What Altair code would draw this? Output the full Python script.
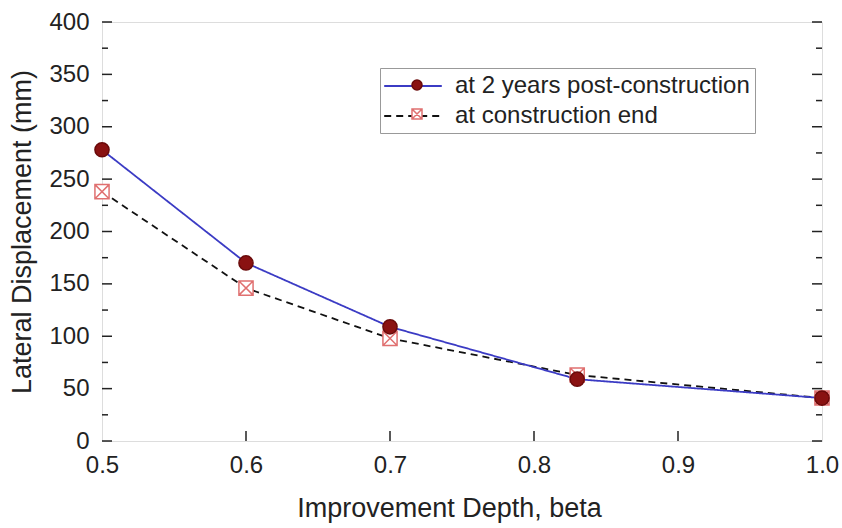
import altair as alt
import pandas as pd

# ---- data ----
BETA = [0.5, 0.6, 0.7, 0.83, 1.0]
POST = [278, 170, 109, 59, 41]
END = [238, 146, 98, 63, 41]
SERIES = ["at 2 years post-construction", "at construction end"]

Y_MAJOR = [0, 50, 100, 150, 200, 250, 300, 350, 400]
Y_MINOR = [25, 75, 125, 175, 225, 275, 325, 375]
X_MAJOR = [0.6, 0.7, 0.8, 0.9]

W, H = 720, 419
FONT = "Liberation Sans"

rows = []
for b, v in zip(BETA, END):
    rows.append({"beta": b, "disp": v, "s": SERIES[1], "s2": SERIES[1]})
for b, v in zip(BETA, POST):
    rows.append({"beta": b, "disp": v, "s": SERIES[0], "s2": SERIES[0]})
df = pd.DataFrame(rows)

xs = alt.Scale(domain=[0.5, 1.0], nice=False, zero=False)
ys = alt.Scale(domain=[0, 400], nice=False)

x_axis = alt.Axis(values=[0.5, 0.6, 0.7, 0.8, 0.9, 1.0], format=".1f", ticks=False, domain=False,
                  grid=False, labelFontSize=24, labelFont=FONT, labelColor="#222",
                  labelPadding=12, labelFlush=False, title="Improvement Depth, beta", titleFontSize=27,
                  titleFont=FONT, titleFontWeight="normal", titleColor="#222",
                  titleX=347, titleY=67, titleBaseline="middle")
y_axis = alt.Axis(values=Y_MAJOR, ticks=False, domain=False, grid=False, labelFontSize=24,
                  labelFont=FONT, labelColor="#222", labelPadding=13, labelFlush=False,
                  title="Lateral Displacement (mm)", titleFontSize=27, titleFont=FONT,
                  titleFontWeight="normal", titleColor="#222", titleX=-80, titleY=H / 2,
                  titleBaseline="middle", titleAngle=-90)

base = alt.Chart(df)

LINE_SYM = "M-2.4,0H2.4"
line_legend = alt.Legend(title=None, orient="none", legendX=278, legendY=46,
                         symbolType=LINE_SYM, symbolSize=576, symbolStrokeWidth=2,
                         symbolOffset=15, labelLimit=500,
                         labelFontSize=24, labelFont=FONT, labelColor="#222",
                         labelOffset=29, rowPadding=5, padding=5,
                         strokeColor="#999", fillColor="white")
lines = base.mark_line(strokeWidth=1.8).encode(
    x=alt.X("beta:Q", scale=xs, axis=x_axis),
    y=alt.Y("disp:Q", scale=ys, axis=y_axis),
    color=alt.Color("s:N", scale=alt.Scale(domain=SERIES, range=["#3b3bc4", "#111111"]),
                    legend=line_legend),
    strokeDash=alt.StrokeDash("s:N", scale=alt.Scale(domain=SERIES, range=[[1, 0], [7, 5]]),
                              legend=line_legend),
)

SQ_X = "M-1,-1H1V1H-1Z M-1,-1L1,1 M1,-1L-1,1"
pt_legend = alt.Legend(title=None, orient="none", legendX=278, legendY=46, symbolOffset=20,
                       labelFontSize=24, labelFont=FONT, labelOpacity=0, labelOffset=14,
                       labelExpr="' '", labelLimit=500, rowPadding=5, padding=5,
                       symbolStrokeWidth=1.5)
points = base.mark_point(filled=False, size=200, strokeWidth=1.5, opacity=1).encode(
    x=alt.X("beta:Q", scale=xs),
    y=alt.Y("disp:Q", scale=ys),
    shape=alt.Shape("s2:N", scale=alt.Scale(range=["circle", SQ_X]), legend=pt_legend),
    fill=alt.Fill("s2:N", scale=alt.Scale(range=["#8a1212", "#ffffff"]), legend=pt_legend),
    stroke=alt.Stroke("s2:N", scale=alt.Scale(range=["#6a0a0a", "#e07070"]), legend=pt_legend),
)

tick_y_major = pd.DataFrame({"v": Y_MAJOR})
tick_y_minor = pd.DataFrame({"v": Y_MINOR})
tick_x_major = pd.DataFrame({"v": X_MAJOR})

def yticks(d, length):
    left = alt.Chart(d).mark_rule(color="#222", strokeWidth=1.5).encode(
        y=alt.Y("v:Q", scale=ys), x=alt.value(0), x2=alt.value(length))
    right = alt.Chart(d).mark_rule(color="#222", strokeWidth=1.5).encode(
        y=alt.Y("v:Q", scale=ys), x=alt.value(W - length), x2=alt.value(W))
    return left + right

xt = alt.Chart(tick_x_major).mark_rule(color="#222", strokeWidth=1.5).encode(
    x=alt.X("v:Q", scale=xs), y=alt.value(H - 10), y2=alt.value(H))

chart = alt.layer(
    yticks(tick_y_major, 10), yticks(tick_y_minor, 6), xt, lines, points
).properties(
    width=W, height=H,
    autosize=alt.AutoSizeParams(type="none"),
    padding={"left": 102, "top": 22, "right": 20, "bottom": 87},
).configure_view(stroke="#222", strokeWidth=2).configure(background="white")

chart.save("out.html", embed_options={"renderer": "svg", "actions": False})
